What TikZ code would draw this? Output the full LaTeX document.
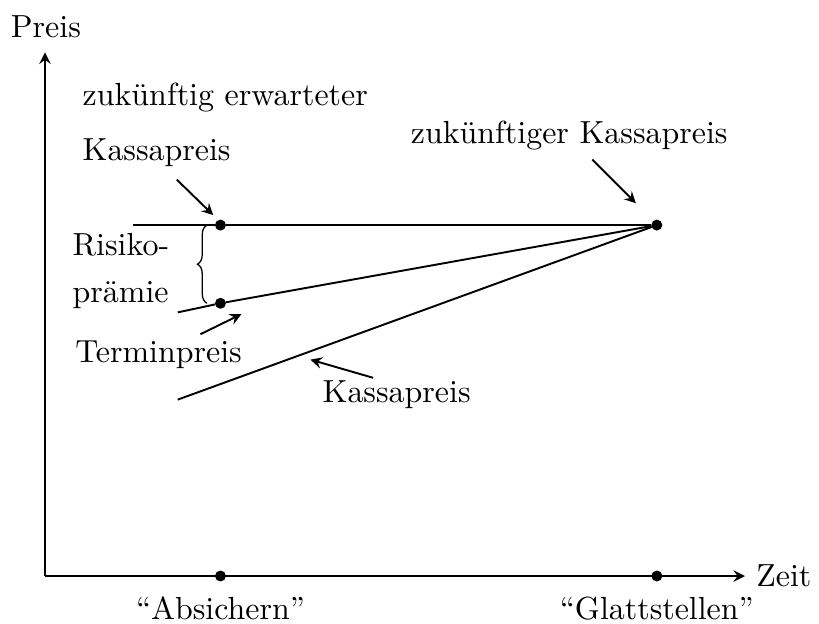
\documentclass[tikz,border=0pt]{standalone}
\usetikzlibrary{decorations.pathreplacing}
\begin{document}
\begin{tikzpicture}[
    dot/.style={circle,draw=black,fill=black,inner sep=0pt,minimum size=3pt},
    txt/.style={anchor=west},
    axis/.style={->,>=stealth,line width=0.6pt},
    pfeil/.style={->,>=stealth,line width=0.6pt},
    linie/.style={line width=0.6pt}
]
    \useasboundingbox (-0.495,-0.517) rectangle (8.514,6.336);
    % axes
    \coordinate (o) at (0,0);
    \draw[axis] (o) -- (0,5.76) coordinate (ytop);
    \draw[axis] (o) -- (7.70,0) coordinate (xend);
    \node at (0.01,6.04) (preis) {Preis};
    \node[right] at (xend) (zeit) {Zeit};
    % time points
    \node[dot] (ab) at (1.93,0) {};
    \node[dot] (gl) at (6.73,0) {};
    \node[below=3pt] at (ab) (ablab) {``Absichern''};
    \node[below=3pt] at (gl) (gllab) {``Glattstellen''};
    % prices
    \node[dot] (erw) at (1.93,3.86) {};
    \node[dot] (term) at (1.93,3.00) {};
    \node[dot] (zuk) at (6.73,3.86) {};
    \coordinate (erwstart) at (0.97,3.86);
    \coordinate (termstart) at (1.46,2.90);
    \coordinate (kassstart) at (1.46,1.94);
    \draw[linie] (erwstart) -- (erw) -- (zuk);
    \draw[linie] (termstart) -- (term) -- (zuk);
    \draw[linie] (kassstart) -- (zuk);
    \draw[thin,decorate,decoration={brace,amplitude=3pt}]
        ([xshift=-2.5pt]term.west) -- ([xshift=-2.5pt]erw.west);
    % labels
    \node[txt] (l1) at (0.29,5.26) {zuk\"unftig erwarteter};
    \node[txt] (l2) at (0.29,4.66) {Kassapreis};
    \node[txt] (l3) at (0.18,3.64) {Risiko-};
    \node[txt] (l4) at (0.18,3.09) {pr\"amie};
    \node[txt] (l5) at (0.21,2.43) {Terminpreis};
    \node[txt] (l6) at (2.93,1.99) {Kassapreis};
    \node[txt] (l7) at (3.90,4.85) {zuk\"unftiger Kassapreis};
    % arrows
    \coordinate (p1) at (1.45,4.36);
    \coordinate (q1) at (1.85,3.97);
    \coordinate (p2) at (1.71,2.66);
    \coordinate (q2) at (2.16,2.88);
    \coordinate (p3) at (3.61,2.18);
    \coordinate (q3) at (2.92,2.38);
    \coordinate (p4) at (6.02,4.58);
    \coordinate (q4) at (6.50,4.10);
    \draw[pfeil] (p1) -- (q1);
    \draw[pfeil] (p2) -- (q2);
    \draw[pfeil] (p3) -- (q3);
    \draw[pfeil] (p4) -- (q4);
\end{tikzpicture}
\end{document}
